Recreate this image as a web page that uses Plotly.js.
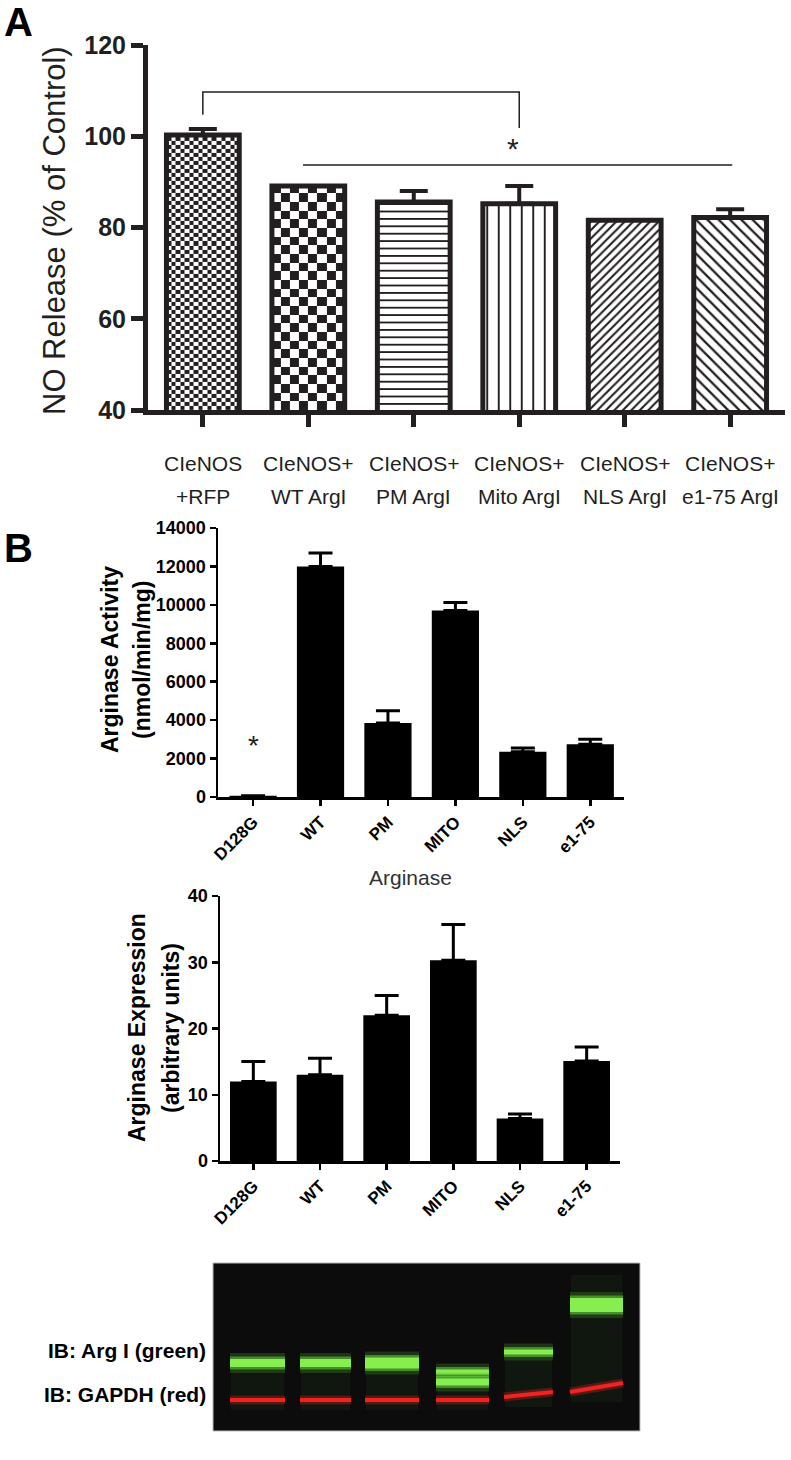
<!DOCTYPE html>
<html><head><meta charset="utf-8">
<script src="https://cdn.plot.ly/plotly-3.0.1.min.js"></script>
<style>html,body{margin:0;padding:0;background:#fff}</style>
</head><body><div id="chart" style="width:791px;height:1460px"></div>
<script>
// ---------- data ----------
// Panel A
const catA1 = ['CIeNOS', 'CIeNOS+', 'CIeNOS+', 'CIeNOS+', 'CIeNOS+', 'CIeNOS+'];
const catA2 = ['+RFP', 'WT ArgI', 'PM ArgI', 'Mito ArgI', 'NLS ArgI', 'e1-75 ArgI'];
const noRelease = [100.3, 89.1, 85.6, 85.2, 81.6, 82.2];
const noReleaseErr = [1.3, 0, 2.4, 3.9, 0, 1.8];
const bracketX = [0, 0, 3, 3];
const bracketY = [104.7, 109.7, 109.7, 101.8];
const sigLineX = [0.95, 5.02];
const sigLineY = [93.7, 93.7];
// Panel B
const arginase = ['D128G', 'WT', 'PM', 'MITO', 'NLS', 'e1-75'];
const activity = [60, 12000, 3850, 9700, 2350, 2750];
const activityErr = [null, 700, 640, 420, 200, 250];
const expression = [12, 13, 22, 30.3, 6.4, 15.1];
const expressionErr = [3, 2.5, 3, 5.4, 0.7, 2.1];
// Western blot (lane / band layout in blot pixels)
const laneX0 = [17, 87, 152, 223, 291, 357];
const laneX1 = [72, 138, 206, 276, 340, 410];
const argBandLane = [0, 1, 2, 3, 3, 4, 5];
const argBandY = [100, 100, 100, 109, 119, 89, 42];
const argBandW = [8, 8, 11, 5, 7, 5, 14];
const gapdhY0 = [137, 137, 137, 137, 134, 129];
const gapdhY1 = [137, 137, 137, 137, 129, 120];

// ---------- helpers ----------
const W = 791, H = 1460;
const px = v => v / W, py = v => 1 - v / H;
const ink = '#231f20';
const idx = arginase.map((_, i) => i);
const FONT = 'Liberation Sans, Arial, sans-serif';
const barWA = 0.69;

function checker(i, val, nx, cell) {
  const half = barWA / 2, xs = [], ys = [], z = [];
  for (let k = 0; k <= nx; k++) xs.push(i - half + k * 2 * half / nx);
  for (let y = 40; y < val; y += cell) ys.push(y);
  ys.push(val);
  for (let r = 0; r < ys.length - 1; r++) {
    const row = [];
    for (let c = 0; c < nx; c++) row.push((r + c) % 2);
    z.push(row);
  }
  return {type: 'heatmap', x: xs, y: ys, z: z, xaxis: 'x', yaxis: 'y',
    colorscale: [[0, '#ffffff'], [1, ink]], zmin: 0, zmax: 1, showscale: false, hoverinfo: 'skip'};
}

const traces = [];
traces.push(checker(0, noRelease[0], 16, 0.88));
traces.push(checker(1, noRelease[1], 8, 1.9));
const patShape = ['', '', '-', '|', '/', '\\'];
const patSize = [8, 8, 7.4, 11.5, 6, 8];
const patSol = [0.2, 0.2, 0.25, 0.17, 0.35, 0.28];
noRelease.forEach((v, i) => {
  const m = {color: i < 2 ? 'rgba(0,0,0,0)' : '#ffffff', line: {color: ink, width: 5}};
  if (patShape[i]) m.pattern = {shape: patShape[i], size: patSize[i], solidity: patSol[i],
    fgcolor: ink, bgcolor: '#ffffff', fgopacity: 1, fillmode: 'replace'};
  traces.push({type: 'bar', x: [i], y: [v], xaxis: 'x', yaxis: 'y', width: barWA, marker: m,
    error_y: {type: 'data', symmetric: false, array: [noReleaseErr[i]], arrayminus: [0],
      color: ink, thickness: 4, width: 14, visible: noReleaseErr[i] > 0}});
});
traces.push({type: 'scatter', mode: 'lines', x: bracketX, y: bracketY, xaxis: 'x', yaxis: 'y',
  line: {color: ink, width: 1.5}, cliponaxis: false});
traces.push({type: 'scatter', mode: 'lines', x: sigLineX, y: sigLineY, xaxis: 'x', yaxis: 'y',
  line: {color: ink, width: 1.5}, cliponaxis: false});

traces.push({type: 'bar', x: idx, y: activity, xaxis: 'x2', yaxis: 'y2', width: 0.7,
  marker: {color: '#000', line: {width: 0}},
  error_y: {type: 'data', symmetric: false, array: activityErr, arrayminus: activityErr.map(() => 0),
    color: '#000', thickness: 3, width: 12}});
traces.push({type: 'bar', x: idx, y: expression, xaxis: 'x3', yaxis: 'y3', width: 0.7,
  marker: {color: '#000', line: {width: 0}},
  error_y: {type: 'data', symmetric: false, array: expressionErr, arrayminus: expressionErr.map(() => 0),
    color: '#000', thickness: 3, width: 12}});

// blot
laneX0.forEach((x0, i) => {
  const gY = Math.min(...argBandY.filter((_, k) => argBandLane[k] === i));
  const top = i === 5 ? gY - 30 : gY;
  traces.push({type: 'scatter', mode: 'lines', x: [(x0 + laneX1[i]) / 2, (x0 + laneX1[i]) / 2],
    y: [top, gapdhY0[i] + 10], xaxis: 'x4', yaxis: 'y4',
    line: {color: 'rgba(60,110,40,0.12)', width: laneX1[i] - x0 - 2}, hoverinfo: 'skip'});
});
argBandLane.forEach((l, k) => {
  const xs = [laneX0[l], laneX1[l]], ys = [argBandY[k], argBandY[k]];
  traces.push({type: 'scatter', mode: 'lines', x: xs, y: ys, xaxis: 'x4', yaxis: 'y4',
    line: {color: 'rgba(80,170,45,0.25)', width: argBandW[k] + 12}, hoverinfo: 'skip'});
  traces.push({type: 'scatter', mode: 'lines', x: xs, y: ys, xaxis: 'x4', yaxis: 'y4',
    line: {color: 'rgba(100,210,60,0.55)', width: argBandW[k] + 5}, hoverinfo: 'skip'});
  traces.push({type: 'scatter', mode: 'lines', x: xs, y: ys, xaxis: 'x4', yaxis: 'y4',
    line: {color: 'rgb(135,238,80)', width: argBandW[k]}, hoverinfo: 'skip'});
});
laneX0.forEach((x0, i) => {
  const xs = [x0, laneX1[i]], ys = [gapdhY0[i], gapdhY1[i]];
  traces.push({type: 'scatter', mode: 'lines', x: xs, y: ys, xaxis: 'x4', yaxis: 'y4',
    line: {color: 'rgba(220,30,30,0.35)', width: 9}, hoverinfo: 'skip'});
  traces.push({type: 'scatter', mode: 'lines', x: xs, y: ys, xaxis: 'x4', yaxis: 'y4',
    line: {color: 'rgb(240,35,35)', width: 4}, hoverinfo: 'skip'});
});

// ---------- layout ----------
const axA = {showline: true, linewidth: 5, linecolor: ink, ticks: 'outside', ticklen: 12, tickwidth: 5,
  tickcolor: ink, showgrid: false, zeroline: false, fixedrange: true};
const bold = s => ({family: FONT, size: s, color: '#000', weight: 'bold'});
const axB = {showline: true, linewidth: 2.5, linecolor: '#000', ticks: 'outside', ticklen: 6, tickwidth: 2.5,
  tickcolor: '#000', showgrid: false, zeroline: false, tickformat: 'd', tickfont: bold(18)};

const ann = [];
const txt = (x, y, text, font, opts) => Object.assign({xref: 'paper', yref: 'paper', x: px(x), y: py(y), text: text,
  showarrow: false, xanchor: 'center', yanchor: 'middle', font: font}, opts || {});
ann.push(txt(2, 22, 'A', bold(40), {xanchor: 'left'}));
ann.push(txt(2, 548, 'B', bold(40), {xanchor: 'left'}));
ann.push(txt(55, 231, 'NO Release (% of Control)', {family: FONT, size: 31, color: ink}, {textangle: -90}));
catA1.forEach((t, i) => {
  ann.push({xref: 'x', yref: 'paper', x: i, y: py(463), text: t, showarrow: false, xanchor: 'center', yanchor: 'middle',
    font: {family: FONT, size: 21, color: ink}});
  ann.push({xref: 'x', yref: 'paper', x: i, y: py(497), text: catA2[i], showarrow: false, xanchor: 'center', yanchor: 'middle',
    font: {family: FONT, size: 21, color: ink}});
});
ann.push({xref: 'x', yref: 'y', x: 2.94, y: 97.4, text: '*', showarrow: false, xanchor: 'center', yanchor: 'middle',
  font: {family: FONT, size: 30, color: ink}});
ann.push({xref: 'x2', yref: 'y2', x: 0, y: 2700, text: '*', showarrow: false, xanchor: 'center', yanchor: 'middle',
  font: {family: FONT, size: 28, color: '#222'}});
ann.push(txt(110, 660, 'Arginase Activity', bold(23), {textangle: -90}));
ann.push(txt(142, 660, '(nmol/min/mg)', bold(23), {textangle: -90}));
ann.push(txt(410, 877, 'Arginase', {family: FONT, size: 21, color: '#333'}));
ann.push(txt(137, 1028, 'Arginase Expression', bold(23), {textangle: -90}));
ann.push(txt(171, 1028, '(arbitrary units)', bold(23), {textangle: -90}));
ann.push(txt(208, 1350, 'IB: Arg I (green)', bold(21), {xanchor: 'right'}));
ann.push(txt(208, 1394, 'IB: GAPDH (red)', bold(21), {xanchor: 'right'}));

const layout = {
  width: W, height: H, margin: {l: 0, r: 0, t: 0, b: 0}, paper_bgcolor: '#fff', plot_bgcolor: 'rgba(0,0,0,0)',
  showlegend: false, barmode: 'overlay',
  xaxis: Object.assign({}, axA, {domain: [px(148), px(785)], range: [-0.52, 5.52], anchor: 'y',
    tickvals: idx, showticklabels: false}),
  yaxis: Object.assign({}, axA, {domain: [py(410), py(45)], range: [40, 120], anchor: 'x', tickvals: [40, 60, 80, 100, 120],
    tickfont: {family: FONT, size: 25, color: ink, weight: 'bold'}}),
  xaxis2: Object.assign({}, axB, {domain: [px(218), px(624)], range: [-0.52, 5.5], anchor: 'y2',
    tickvals: idx, ticktext: arginase, tickangle: -45, tickfont: bold(17)}),
  yaxis2: Object.assign({}, axB, {domain: [py(797), py(528)], range: [0, 14000], anchor: 'x2', dtick: 2000}),
  xaxis3: Object.assign({}, axB, {domain: [px(220), px(620)], range: [-0.5, 5.5], anchor: 'y3',
    tickvals: idx, ticktext: arginase, tickangle: -45, tickfont: bold(17)}),
  yaxis3: Object.assign({}, axB, {domain: [py(1161), py(896)], range: [0, 40], anchor: 'x3', dtick: 10}),
  xaxis4: {domain: [px(213), px(640)], range: [0, 427], visible: false, anchor: 'y4'},
  yaxis4: {domain: [py(1431), py(1263)], range: [168, 0], visible: false, anchor: 'x4'},
  shapes: [{type: 'rect', xref: 'x4 domain', yref: 'y4 domain', x0: 0, x1: 1, y0: 0, y1: 1,
    fillcolor: '#0b0c0b', line: {width: 1, color: '#bbb'}, layer: 'below'}],
  annotations: ann
};

Plotly.newPlot('chart', traces, layout, {staticPlot: true, displayModeBar: false});
</script></body></html>
